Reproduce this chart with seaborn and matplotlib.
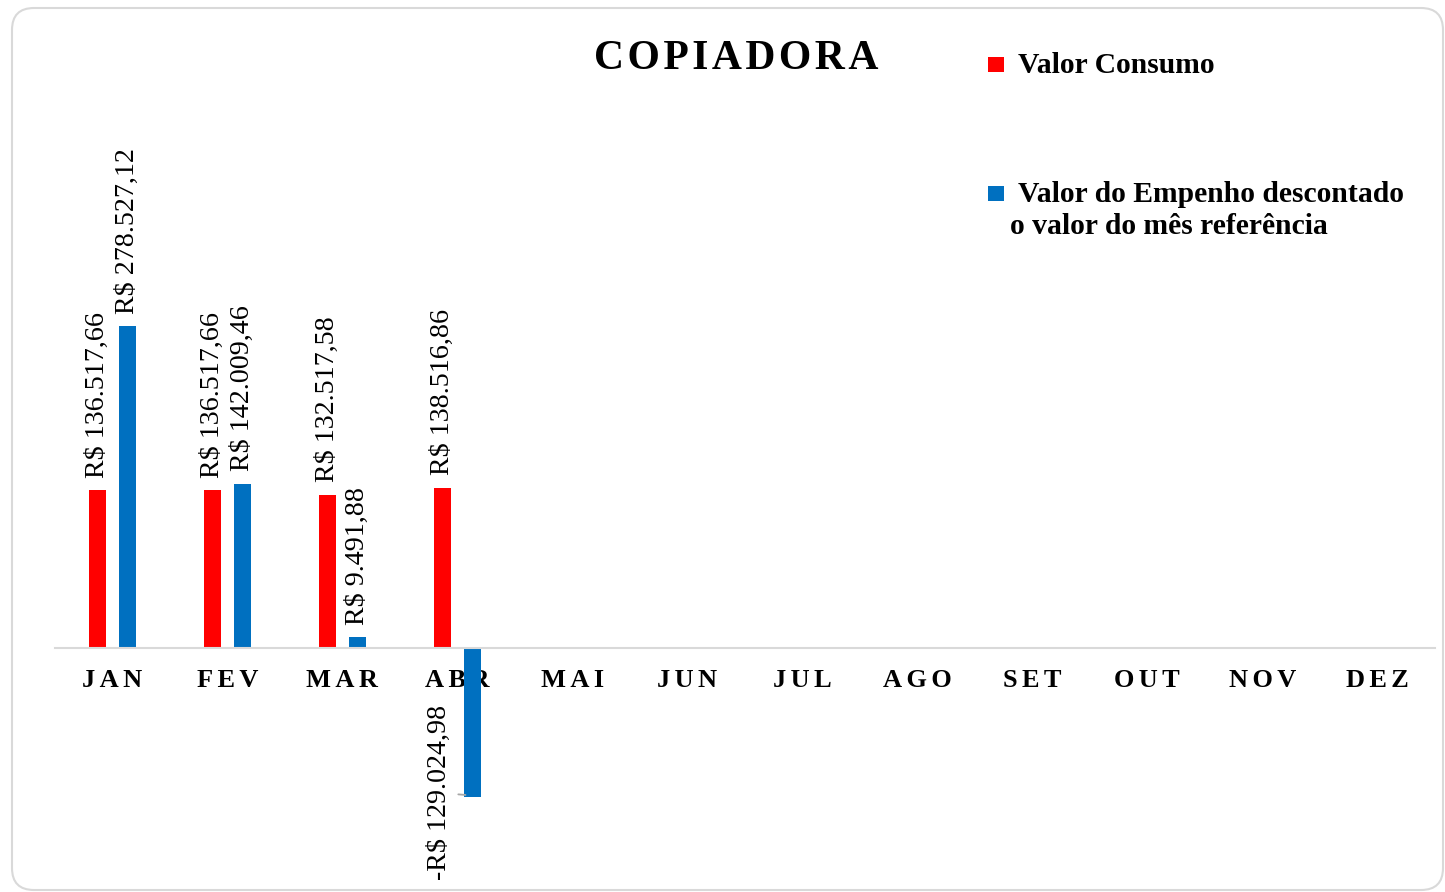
import numpy as np
import pandas as pd
import seaborn as sns
import matplotlib
matplotlib.use("Agg")
import matplotlib.pyplot as plt
from matplotlib.patches import FancyBboxPatch, Rectangle
from matplotlib.transforms import IdentityTransform

# Dados do gráfico
meses = ["JAN", "FEV", "MAR", "ABR", "MAI", "JUN", "JUL", "AGO", "SET", "OUT", "NOV", "DEZ"]
meses_com_dados = ["JAN", "FEV", "MAR", "ABR"]
valor_consumo = [136517.66, 136517.66, 132517.58, 138516.86]
valor_empenho = [278527.12, 142009.46, 9491.88, -129024.98]
series = ["Valor Consumo", "Valor do Empenho descontado o valor do mês referência"]
cores = ["#FF0000", "#0070C0"]

df = pd.DataFrame({
    "mes": meses_com_dados * 2,
    "valor": valor_consumo + valor_empenho,
    "serie": [series[0]] * len(valor_consumo) + [series[1]] * len(valor_empenho),
})

sns.set_theme(style="white")
plt.rcParams["font.family"] = ["Liberation Serif", "DejaVu Serif"]

W, H = 1445, 892
fig = plt.figure(figsize=(W / 100, H / 100), dpi=100)
fig.patch.set_facecolor("white")


def fpos(x, y):
    """Pixel position (from top-left) to figure fraction."""
    return x / W, 1 - y / H


ax = fig.add_axes([0.0379, 0.00135, 0.9551, 0.8943])
sns.barplot(
    data=df, x="mes", y="valor", hue="serie",
    order=meses, hue_order=series, palette=cores, saturation=1,
    width=0.52, gap=0.43, errorbar=None, legend=False, linewidth=0, ax=ax,
)
ax.set_ylim(-210000, 480000)
ax.set_xlim(-0.5, 11.5)
ax.patch.set_alpha(0)
for s in ["top", "left", "right"]:
    ax.spines[s].set_visible(False)
ax.spines["bottom"].set_position(("data", 0))
ax.spines["bottom"].set_color("#d9d9d9")
ax.spines["bottom"].set_linewidth(1.5)
ax.set_yticks([])
ax.set_xlabel("")
ax.set_ylabel("")
ax.set_xticks(range(len(meses)))
ax.set_xticklabels(["\u2006".join(m) for m in meses], fontsize=19,
                   fontweight="bold", color="#000000")
ax.tick_params(axis="x", length=0, pad=15)


def brl(v):
    s = f"{abs(v):,.2f}".replace(",", "X").replace(".", ",").replace("X", ".")
    return ("-R$ " if v < 0 else "R$ ") + s


# Rótulos de valor das barras
for cont in ax.containers:
    for bar in cont:
        h = bar.get_height()
        if np.isnan(h):
            continue
        xc = bar.get_x() + bar.get_width() / 2
        if h >= 0:
            ax.annotate(brl(h), xy=(xc, h), xytext=(0, 9), textcoords="offset points",
                        rotation=90, ha="center", va="bottom", fontsize=20.2,
                        color="#000000")
        else:
            ax.annotate(brl(h), xy=(bar.get_x() + 0.015, h * 0.985),
                        xytext=(-18.5, 1.5), textcoords="offset points",
                        rotation=90, ha="center", va="center", fontsize=20.2,
                        color="#000000",
                        arrowprops=dict(arrowstyle="-", color="#a6a6a6", lw=1.3,
                                        shrinkA=2, shrinkB=0))

# Título
fig.text(*fpos(736, 69), "\u200a".join("COPIADORA"), ha="center", va="baseline",
         fontsize=30, fontweight="bold", color="#000000")

# Legenda
fig.add_artist(Rectangle(fpos(988, 72), 16 / W, 15 / H, transform=fig.transFigure,
                         facecolor=cores[0], edgecolor="none"))
fig.text(*fpos(1018, 73), "Valor Consumo", va="baseline", ha="left",
         fontsize=21.3, fontweight="bold", color="#000000")
fig.add_artist(Rectangle(fpos(988, 201), 16 / W, 15 / H, transform=fig.transFigure,
                         facecolor=cores[1], edgecolor="none"))
fig.text(*fpos(1018, 202), "Valor do Empenho descontado", va="baseline", ha="left",
         fontsize=21.3, fontweight="bold", color="#000000")
fig.text(*fpos(1010, 234), "o valor do mês referência", va="baseline", ha="left",
         fontsize=21.3, fontweight="bold", color="#000000")

# Moldura arredondada
fig.add_artist(FancyBboxPatch((12, 2), 1431, 882,
                              boxstyle="round,pad=0,rounding_size=22",
                              transform=IdentityTransform(), facecolor="none",
                              edgecolor="#d9d9d9", linewidth=1.5))

fig.savefig("out.png", dpi=100)
